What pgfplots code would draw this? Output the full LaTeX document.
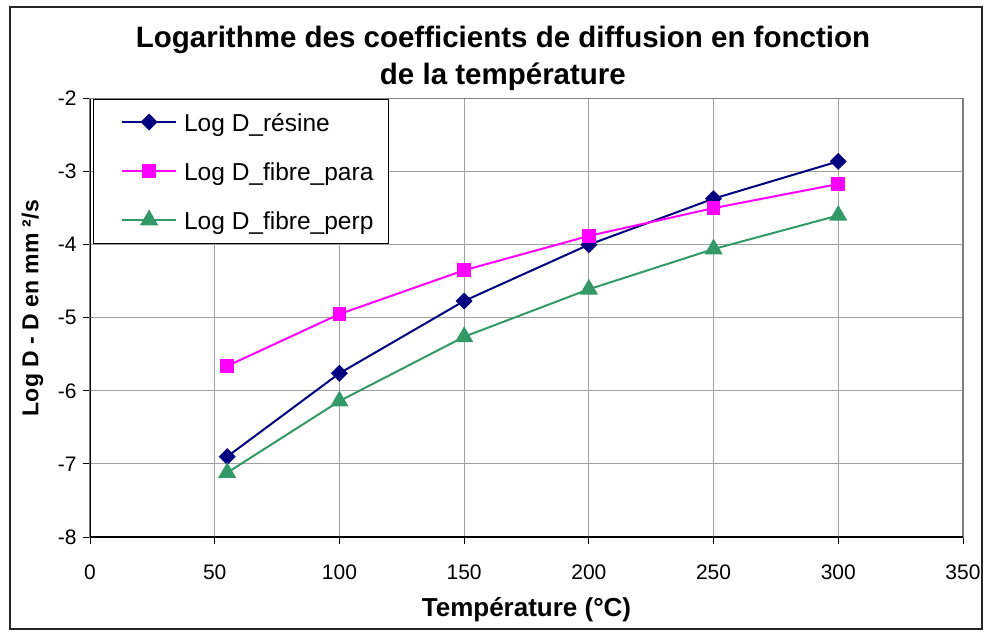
\documentclass[border=0pt]{standalone}
\usepackage{fontspec}
\setmainfont{Liberation Sans}
\usepackage{pgfplots}
\pgfplotsset{compat=1.18}

\definecolor{resine}{RGB}{0,0,128}
\definecolor{para}{RGB}{255,0,255}
\definecolor{perp}{RGB}{51,153,102}
\definecolor{gridgray}{RGB}{160,160,160}
\definecolor{framegray}{RGB}{128,128,128}

\begin{document}
\begin{tikzpicture}[x=1pt,y=1pt]
\useasboundingbox (0,0) rectangle (984,633);
\draw[line width=1.3pt, black!85] (10,4) rectangle (982,626);
\begin{axis}[
  at={(90pt,96pt)}, anchor=south west,
  scale only axis, width=873pt, height=438.5pt,
  xmin=0, xmax=350, ymin=-8, ymax=-2,
  xtick={0,50,...,350}, ytick={-8,-7,...,-2},
  grid=major, major grid style={gridgray, line width=1pt},
  axis line style={framegray, line width=1.5pt},
  tick pos=left, tick align=outside, major tick length=7pt,
  tick style={black, line width=1pt},
  /pgf/number format/assume math mode=true,
  tick label style={font=\fontsize{21}{24}\selectfont},
  xticklabel style={yshift=-17pt},
  yticklabel style={xshift=-3pt},
  title={Logarithme des coefficients de diffusion en fonction\\de la température},
  title style={at={(axis description cs:0.473,1.077)}, anchor=center, align=center,
    font=\bfseries\fontsize{29.5}{37}\selectfont},
  xlabel={Température (°C)},
  xlabel style={at={(axis description cs:0.5,-0.1824)}, anchor=base,
    font=\bfseries\fontsize{26}{30}\selectfont},
  ylabel={Log D - D en mm ²/s},
  ylabel style={at={(axis description cs:-0.066,0.522)}, anchor=center,
    font=\bfseries\fontsize{23}{27}\selectfont},
  legend cell align=left,
  legend image code/.code={%
    \path (0pt,0pt);
    \draw[mark repeat=2,mark phase=2,#1] plot coordinates {(13pt,0pt) (40pt,0pt) (67pt,0pt)};},
  legend style={at={(axis description cs:0.003,1)}, anchor=north west,
    draw=black, line width=1pt, fill=white,
    font=\fontsize{24.5}{29}\selectfont,
    inner xsep=15pt, inner ysep=10pt,
    column sep=7pt, row sep=23pt,
    nodes={inner sep=0pt, text height=22pt, text depth=4pt}},
]
\addplot[resine, line width=2pt, mark=square*, mark size=5pt,
  mark options={solid, rotate=45}]
  coordinates {(55,-6.90) (100,-5.76) (150,-4.77) (200,-4.00) (250,-3.37) (300,-2.86)};
\addlegendentry{Log D\_résine}
\addplot[para, line width=2pt, mark=square*, mark size=5.8pt, mark options={solid}]
  coordinates {(55,-5.66) (100,-4.95) (150,-4.35) (200,-3.88) (250,-3.50) (300,-3.17)};
\addlegendentry{Log D\_fibre\_para}
\addplot[perp, line width=2pt, mark=triangle*, mark size=8.5pt, mark options={solid}]
  coordinates {(55,-7.12) (100,-6.14) (150,-5.26) (200,-4.61) (250,-4.06) (300,-3.60)};
\addlegendentry{Log D\_fibre\_perp}
\draw[black, line width=1.5pt] (rel axis cs:0,1) -- (rel axis cs:0,0) -- (rel axis cs:1,0);
\end{axis}
\end{tikzpicture}
\end{document}
